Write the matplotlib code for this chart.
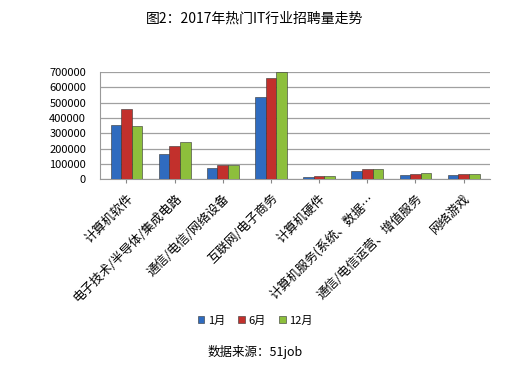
import matplotlib
matplotlib.use("Agg")
import matplotlib.pyplot as plt
import numpy as np

plt.rcParams['font.family'] = ['Noto Sans CJK SC', 'DejaVu Sans']

categories = ['计算机软件', '电子技术/半导体/集成电路', '通信/电信/网络设备', '互联网/电子商务',
              '计算机硬件', '计算机服务(系统、数据…', '通信/电信运营、增值服务', '网络游戏']
jan = [355000, 165000, 75000, 540000, 15000, 55000, 30000, 25000]
jun = [460000, 220000, 90000, 660000, 20000, 65000, 35000, 35000]
dec = [350000, 245000, 92000, 700000, 20000, 65000, 40000, 35000]
series = [('1月', jan, '#2f6bbf'), ('6月', jun, '#c2302c'), ('12月', dec, '#8dbf3c')]

fig = plt.figure(figsize=(5.1, 3.78), dpi=100)
ax = fig.add_axes([0.196, 0.526, 0.765, 0.283])

x = np.arange(len(categories))
w = 0.22
for i, (name, vals, col) in enumerate(series):
    ax.bar(x + (i - 1) * w, vals, w, color=col, edgecolor='#333333', linewidth=0.4,
           label=name, zorder=3)

ax.set_xlim(-0.55, len(categories) - 0.45)
ax.set_ylim(0, 700000)
ax.set_yticks(np.arange(0, 700001, 100000))
ax.yaxis.set_major_formatter(matplotlib.ticker.FuncFormatter(lambda v, p: f'{int(v)}'))
ax.tick_params(axis='y', labelsize=8, length=0, pad=10)
ax.grid(axis='y', color='#a0a0a0', linewidth=0.9, zorder=0)
ax.set_xticks(x)
ax.set_xticklabels(categories, rotation=45, ha='right', rotation_mode='anchor', fontsize=9)
ax.tick_params(axis='x', length=3, color='#888888', pad=6)
for s in ['top', 'right']:
    ax.spines[s].set_visible(False)
ax.spines['left'].set_color('#999999')
ax.spines['bottom'].set_color('#999999')

fig.text(0.5, 0.952, '图2：2017年热门IT行业招聘量走势', ha='center', va='center',
         fontsize=10, fontweight='medium')
fig.legend(loc='center', bbox_to_anchor=(0.5, 0.152), ncol=3, frameon=False,
           fontsize=8, handlelength=0.6, handleheight=0.6, columnspacing=1.2, handletextpad=0.3)
fig.text(0.5, 0.068, '数据来源：51job', ha='center', va='center', fontsize=9)

fig.savefig('out.png', dpi=100, facecolor='white')
